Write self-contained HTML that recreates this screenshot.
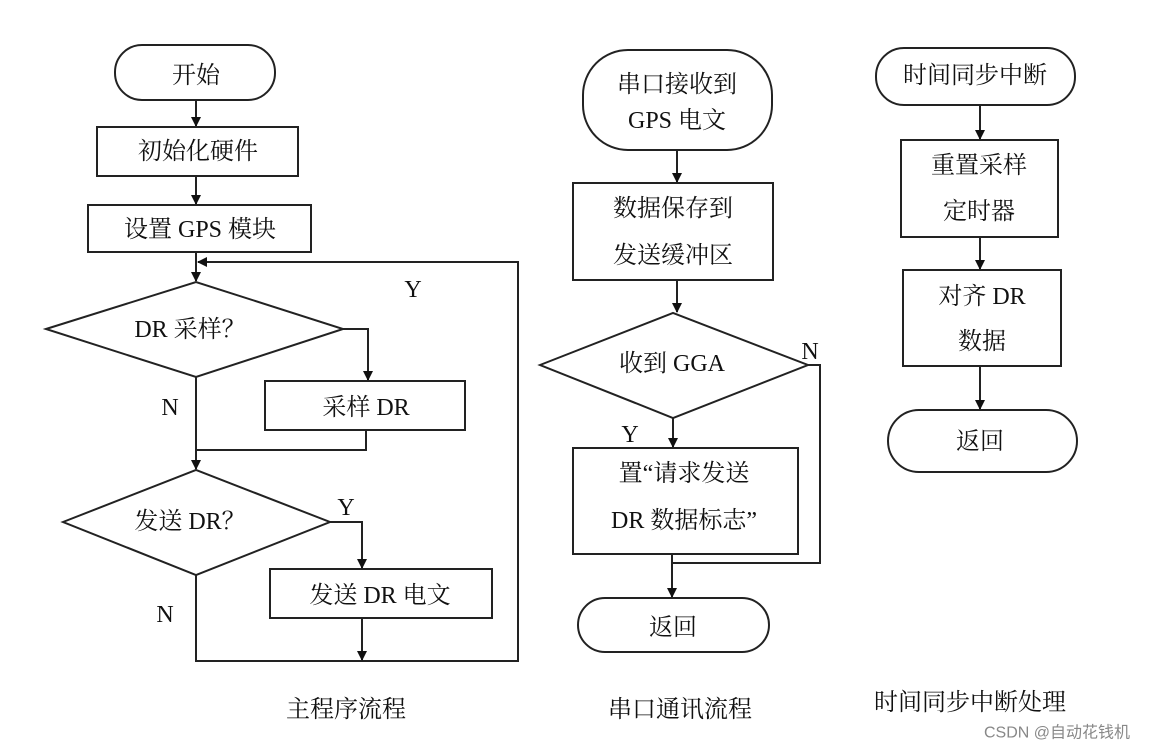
<!DOCTYPE html>
<html><head><meta charset="utf-8"><style>
html,body{margin:0;padding:0;background:#fff;}
svg{display:block;}
text{font-family:"Liberation Serif","Noto Serif CJK SC",serif;font-size:24px;fill:#111;text-anchor:middle;dominant-baseline:central;}
.s{fill:none;stroke:#222;stroke-width:2;}
.w{fill:#fff;stroke:#222;stroke-width:2;}
</style></head><body>
<svg width="1158" height="750" viewBox="0 0 1158 750">
<defs><marker id="a" markerWidth="10" markerHeight="10" refX="9" refY="5" orient="auto" markerUnits="userSpaceOnUse"><path d="M0,0 L10,5 L0,10z" fill="#111"/></marker></defs>
<!-- main -->
<rect class="w" x="115" y="45" width="160" height="55" rx="27"/><text x="196" y="76">开始</text>
<line class="s" x1="196" y1="100" x2="196" y2="126" marker-end="url(#a)"/>
<rect class="w" x="97" y="127" width="201" height="49"/><text x="198" y="152">初始化硬件</text>
<line class="s" x1="196" y1="176" x2="196" y2="204" marker-end="url(#a)"/>
<rect class="w" x="88" y="205" width="223" height="47"/><text x="200" y="230">设置 GPS 模块</text>
<line class="s" x1="196" y1="252" x2="196" y2="281" marker-end="url(#a)"/>
<polyline class="s" points="196,661 518,661 518,262 198,262" marker-end="url(#a)"/>
<text x="413" y="290">Y</text>
<polygon class="w" points="46,329 196,282 343,329 196,377"/><text x="190" y="330">DR 采样？</text>
<polyline class="s" points="343,329 368,329 368,380" marker-end="url(#a)"/>
<rect class="w" x="265" y="381" width="200" height="49"/><text x="366" y="408">采样 DR</text>
<text x="170" y="408">N</text>
<polyline class="s" points="366,430 366,450 196,450"/>
<line class="s" x1="196" y1="377" x2="196" y2="469" marker-end="url(#a)"/>
<polygon class="w" points="63,522 196,470 330,522 196,575"/><text x="190" y="522">发送 DR？</text>
<text x="346" y="508">Y</text>
<polyline class="s" points="330,522 362,522 362,568" marker-end="url(#a)"/>
<rect class="w" x="270" y="569" width="222" height="49"/><text x="380" y="596">发送 DR 电文</text>
<line class="s" x1="362" y1="618" x2="362" y2="660" marker-end="url(#a)"/>
<text x="165" y="615">N</text>
<polyline class="s" points="196,575 196,661 362,661"/>
<!-- middle -->
<rect class="w" x="583" y="50" width="189" height="100" rx="45"/><text x="677" y="85">串口接收到</text><text x="677" y="121">GPS 电文</text>
<line class="s" x1="677" y1="150" x2="677" y2="182" marker-end="url(#a)"/>
<rect class="w" x="573" y="183" width="200" height="97"/><text x="673" y="209">数据保存到</text><text x="673" y="256">发送缓冲区</text>
<line class="s" x1="677" y1="280" x2="677" y2="312" marker-end="url(#a)"/>
<polygon class="w" points="540,365 673,313 808,365 673,418"/><text x="672" y="364">收到 GGA</text>
<text x="810" y="352">N</text>
<polyline class="s" points="808,365 820,365 820,563 672,563"/>
<text x="630" y="435">Y</text>
<line class="s" x1="673" y1="418" x2="673" y2="447" marker-end="url(#a)"/>
<rect class="w" x="573" y="448" width="225" height="106"/><text x="684" y="474">置“请求发送</text><text x="684" y="521">DR 数据标志”</text>
<line class="s" x1="672" y1="554" x2="672" y2="597" marker-end="url(#a)"/>
<rect class="w" x="578" y="598" width="191" height="54" rx="27"/><text x="673" y="628">返回</text>
<!-- right -->
<rect class="w" x="876" y="48" width="199" height="57" rx="28"/><text x="975" y="76">时间同步中断</text>
<line class="s" x1="980" y1="105" x2="980" y2="139" marker-end="url(#a)"/>
<rect class="w" x="901" y="140" width="157" height="97"/><text x="979" y="166">重置采样</text><text x="979" y="212">定时器</text>
<line class="s" x1="980" y1="237" x2="980" y2="269" marker-end="url(#a)"/>
<rect class="w" x="903" y="270" width="158" height="96"/><text x="982" y="297">对齐 DR</text><text x="982" y="342">数据</text>
<line class="s" x1="980" y1="366" x2="980" y2="409" marker-end="url(#a)"/>
<rect class="w" x="888" y="410" width="189" height="62" rx="31"/><text x="980" y="442">返回</text>
<!-- captions -->
<text x="346" y="710">主程序流程</text>
<text x="680" y="710">串口通讯流程</text>
<text x="970" y="703">时间同步中断处理</text>
<text x="1057" y="733" style="font-family:'Liberation Sans','Noto Sans CJK SC',sans-serif;font-size:16px;fill:#888">CSDN @自动花钱机</text>
</svg>
</body></html>
